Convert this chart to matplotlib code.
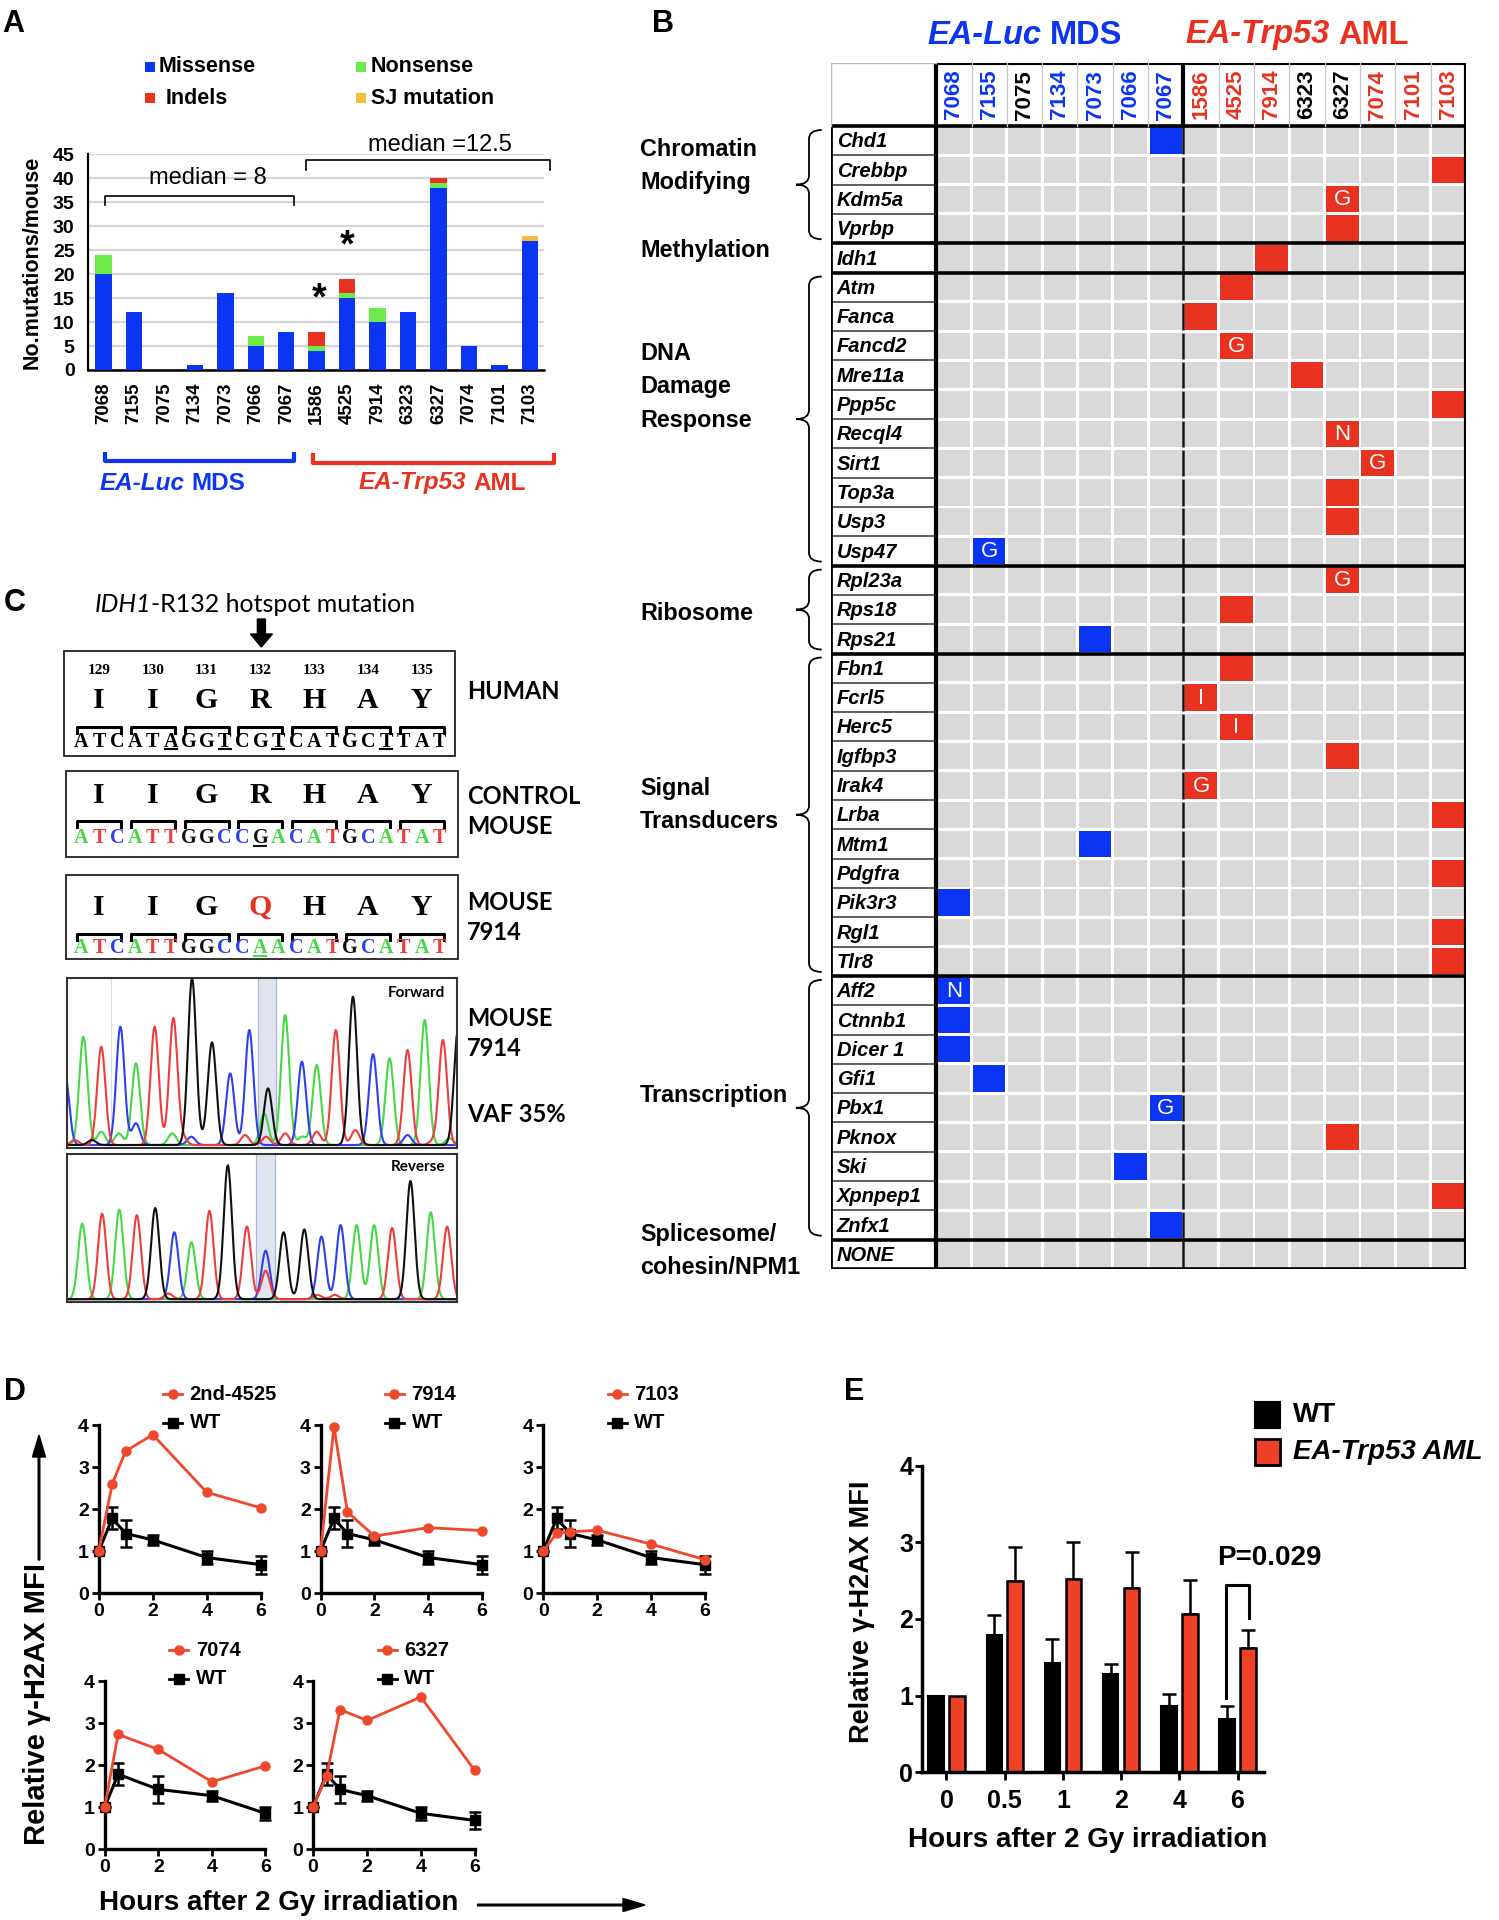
import numpy as np
import matplotlib
matplotlib.use('Agg')
import matplotlib.pyplot as plt
from matplotlib.patches import Rectangle, FancyArrow, PathPatch
from matplotlib.path import Path
from matplotlib import font_manager as fm

W, H = 1499, 1920
PT = 100 / 72.0


def has_font(name):
    try:
        fm.findfont(fm.FontProperties(family=name), fallback_to_default=False)
        return True
    except Exception:
        return False


SANS = 'Liberation Sans'
SERIF = 'Liberation Serif'
NARROW = 'Liberation Sans Narrow' if has_font('Liberation Sans Narrow') else None
CAL = 'Lato' if has_font('Lato') else SANS
plt.rcParams['font.family'] = [SANS, 'DejaVu Sans']

# ======================= DATA =======================
# Panel A
mice = ['7068', '7155', '7075', '7134', '7073', '7066', '7067',
        '1586', '4525', '7914', '6323', '6327', '7074', '7101', '7103']
n_mds = 7
missense = [20, 12, 0, 1, 16, 5, 8, 4, 15, 10, 12, 38, 5, 1, 27]
nonsense = [4, 0, 0, 0, 0, 2, 0, 1, 1, 3, 0, 1, 0, 0, 0]
indels = [0, 0, 0, 0, 0, 0, 0, 3, 3, 0, 0, 1, 0, 0, 0]
sj_mut = [0, 0, 0, 0, 0, 0, 0, 0, 0, 0, 0, 0, 0, 0, 1]
starred = ['1586', '4525']
mds_median = 8
aml_median = 12.5

# Panel B
header_colors = ['b', 'b', 'k', 'b', 'b', 'b', 'b', 'r', 'r', 'r', 'k', 'k', 'r', 'r', 'r']
genes = ['Chd1', 'Crebbp', 'Kdm5a', 'Vprbp', 'Idh1',
         'Atm', 'Fanca', 'Fancd2', 'Mre11a', 'Ppp5c', 'Recql4', 'Sirt1', 'Top3a', 'Usp3', 'Usp47',
         'Rpl23a', 'Rps18', 'Rps21',
         'Fbn1', 'Fcrl5', 'Herc5', 'Igfbp3', 'Irak4', 'Lrba', 'Mtm1', 'Pdgfra', 'Pik3r3', 'Rgl1', 'Tlr8',
         'Aff2', 'Ctnnb1', 'Dicer 1', 'Gfi1', 'Pbx1', 'Pknox', 'Ski', 'Xpnpep1', 'Znfx1',
         'NONE']
gene_mouse = ['7067', '7103', '6327', '6327', '7914',
              '4525', '1586', '4525', '6323', '7103', '6327', '7074', '6327', '6327', '7155',
              '6327', '4525', '7073',
              '4525', '1586', '4525', '6327', '1586', '7103', '7073', '7103', '7068', '7103', '7103',
              '7068', '7068', '7068', '7155', '7067', '6327', '7066', '7103', '7067',
              '']
gene_tag = ['', '', 'G', '', '',
            '', '', 'G', '', '', 'N', 'G', '', '', 'G',
            'G', '', '',
            '', 'I', 'I', '', 'G', '', '', '', '', '', '',
            'N', '', '', '', 'G', '', '', '', '',
            '']
cat_labels = ['Chromatin\nModifying', 'Methylation', 'DNA\nDamage\nResponse', 'Ribosome',
              'Signal\nTransducers', 'Transcription', 'Splicesome/\ncohesin/NPM1']
cat_rows = [(0, 4), (4, 5), (5, 15), (15, 18), (18, 29), (29, 38), (38, 39)]
cat_brace = [True, False, True, True, True, True, False]

# Panel C
codon_numbers = [129, 130, 131, 132, 133, 134, 135]
res_human = 'IIGRHAY'
seq_human = 'ATCATAGGTCGTCATGCTTAT'
ul_human = [5, 8, 11, 17]
res_ctrl = 'IIGRHAY'
seq_ctrl = 'ATCATTGGCCGACATGCATAT'
ul_ctrl = [10]
res_7914 = 'IIGQHAY'
seq_7914 = 'ATCATTGGCCAACATGCATAT'
ul_7914 = [10]
fwd_pos = [-0.005, 0.042, 0.088, 0.137, 0.177, 0.225, 0.273, 0.321, 0.373, 0.419, 0.468, 0.516, 0.506,
           0.560, 0.603, 0.641, 0.690, 0.734, 0.786, 0.828, 0.874, 0.918, 0.965, 1.004,
           0.020, 0.064, 0.088, 0.133, 0.177, 0.270, 0.298, 0.319, 0.363, 0.417, 0.457, 0.511,
           0.560, 0.604, 0.641, 0.740, 0.781, 0.828, 0.874, 0.938, 0.982]
fwd_h = [0.42, 0.65, 0.59, 0.71, 0.49, 0.71, 0.76, 1.00, 0.57, 0.41, 0.69, 0.34, 0.19,
         0.78, 0.50, 0.48, 0.69, 0.89, 0.50, 0.46, 0.57, 0.75, 0.63, 0.70,
         0.03, 0.03, 0.08, 0.07, 0.13, 0.07, 0.04, 0.05, 0.07, 0.02, 0.06, 0.05,
         0.07, 0.05, 0.08, 0.09, 0.05, 0.06, 0.06, 0.02, 0.04]
fwd_base = list('CATCATTGGCCGAACATGCATATG') + list('TGAACATCGCTTTATTCACTAGC')
rev_pos = [0.039, 0.090, 0.134, 0.179, 0.226, 0.275, 0.319, 0.365, 0.412, 0.461, 0.509, 0.509,
           0.555, 0.608, 0.652, 0.701, 0.742, 0.787, 0.833, 0.880, 0.932, 0.974,
           0.260, 0.642, 0.686]
rev_h = [0.53, 0.60, 0.63, 0.59, 0.64, 0.47, 0.40, 0.62, 0.94, 0.51, 0.34, 0.20,
         0.47, 0.49, 0.44, 0.52, 0.52, 0.52, 0.50, 0.83, 0.61, 0.51,
         0.04, 0.03, 0.03]
rev_base = list('ATATGCATGTCTGGCCAATGAT') + list('TTT')

# Panel D
d_samples = ['2nd-4525', '7914', '7103', '7074', '6327']
d_times = [0, 0.5, 1, 2, 4, 6]
wt_mean = [1.0, 1.78, 1.42, 1.27, 0.85, 0.68]
wt_err = [0.0, 0.26, 0.32, 0.12, 0.15, 0.21]
d_times_7074 = [0, 0.5, 2, 4, 6]
wt_mean_7074 = [1.0, 1.78, 1.42, 1.27, 0.85]
wt_err_7074 = [0.0, 0.26, 0.32, 0.12, 0.15]
s_4525 = [1.0, 2.60, 3.38, 3.77, 2.40, 2.03]
s_7914 = [1.0, 3.96, 1.93, 1.36, 1.56, 1.49]
s_7103 = [1.0, 1.43, 1.46, 1.50, 1.17, 0.80]
s_7074 = [1.0, 2.73, 2.37, 1.60, 1.98]
s_6327 = [1.0, 1.74, 3.32, 3.06, 3.62, 1.87]

# Panel E
e_times = ['0', '0.5', '1', '2', '4', '6']
e_wt = [1.0, 1.79, 1.42, 1.28, 0.86, 0.69]
e_wt_err = [0.0, 0.26, 0.32, 0.13, 0.16, 0.18]
e_aml = [1.0, 2.49, 2.52, 2.41, 2.06, 1.62]
e_aml_err = [0.0, 0.45, 0.49, 0.46, 0.45, 0.24]
p_value = 'P=0.029'

# ======================= STYLE =======================
BLUE = '#0b35f2'
GREEN = '#6ceb4b'
RED = '#e8321f'
ORANGE = '#f5bd40'
HM_GRAY = '#d9d9d9'
D_RED = '#f0482c'
E_RED = '#ee4127'
CMAP = {'b': BLUE, 'r': RED, 'k': 'black'}
BASE_COL = {'A': '#46d846', 'C': '#2f3ff0', 'G': '#111111', 'T': '#f03c3c'}

fig = plt.figure(figsize=(W / 100, H / 100), dpi=100)
fig.patch.set_facecolor('white')


def px_axes(x0, y0, x1, y1, **kw):
    return fig.add_axes([x0 / W, 1 - y1 / H, (x1 - x0) / W, (y1 - y0) / H], **kw)


ov = fig.add_axes([0, 0, 1, 1], zorder=10)
ov.set_xlim(0, W)
ov.set_ylim(H, 0)
ov.axis('off')
renderer = fig.canvas.get_renderer()


def rich(x, y, pieces, size, ha='center'):
    ts, ws = [], []
    for s, kw in pieces:
        lead = len(s) - len(s.lstrip(' '))
        t = ov.text(0, y, s.lstrip(' '), fontsize=size, va='center', ha='left', **kw)
        ts.append((t, lead * 0.278 * size * PT))
        ws.append(t.get_window_extent(renderer).width + lead * 0.278 * size * PT)
    x0 = x - sum(ws) / 2 if ha == 'center' else x
    for (t, lead), w in zip(ts, ws):
        t.set_x(x0 + lead)
        x0 += w


def cap_text(x, yc, s, size, capfrac=0.70, **kw):
    ov.text(x, yc + capfrac * size * PT / 2, s, fontsize=size, ha='center', va='baseline', **kw)


def panel_letter(x, y, s):
    ov.text(x, y, s, fontsize=22, weight='bold', ha='center', va='center')


panel_letter(13, 24, 'A')
panel_letter(663, 24, 'B')
panel_letter(15, 603, 'C')
panel_letter(15, 1392, 'D')
panel_letter(854, 1392, 'E')

# ======================= PANEL A =======================
axA = px_axes(88.4, 154.3, 544.4, 370)
xa = np.arange(len(mice))
bottom = np.zeros(len(mice))
for vals, col in ((missense, BLUE), (nonsense, GREEN), (indels, RED), (sj_mut, ORANGE)):
    v = np.array(vals, float)
    axA.bar(xa, v, width=0.54, bottom=bottom, color=col, zorder=3, linewidth=0)
    bottom += v
axA.set_xlim(-0.5, len(mice) - 0.52)
axA.set_ylim(0, 45)
axA.set_yticks(np.arange(0, 46, 5))
axA.grid(axis='y', color='#d6d6d6', lw=1.6, zorder=0)
axA.set_axisbelow(True)
for s in ('top', 'right'):
    axA.spines[s].set_visible(False)
axA.spines['left'].set_linewidth(1.6)
axA.spines['bottom'].set_linewidth(1.8)
axA.set_xticks(xa)
axA.set_xticklabels(mice, rotation=90, fontsize=13.5, fontweight='bold')
axA.tick_params(axis='both', length=0)
axA.tick_params(axis='x', pad=9.0)
axA.tick_params(axis='y', pad=10, labelsize=14)
for lab in axA.get_yticklabels():
    lab.set_fontweight('bold')


def bracket(ax, x0, x1, y, leg, **kw):
    ax.plot([x0, x0, x1, x1], [y - leg, y, y, y - leg], clip_on=False, **kw)


bracket(axA, 0.06, n_mds - 0.76, 36.3, 1.8, color='k', lw=1.2)
axA.text(3.44, 40.0, f'median = {mds_median:g}', ha='center', va='center', fontsize=17)
bracket(axA, n_mds - 0.35, len(mice) - 0.35, 43.8, 2.1, color='k', lw=1.2)
axA.text(11.05, 46.9, f'median ={aml_median:g}', ha='center', va='center', fontsize=17, clip_on=False)
for m in starred:
    i = mice.index(m)
    axA.text(i + (0.07 if i == n_mds else 0), bottom[i] + 6.8, '*', ha='center', va='center',
             fontsize=27, weight='bold')

# legend A
for (lab, col, sx, sy, tx) in (('Missense', BLUE, 144.7, 67, 159), ('Nonsense', GREEN, 355.6, 67, 371),
                               ('Indels', RED, 144.7, 98, 165.5), ('SJ mutation', ORANGE, 355.6, 98, 371)):
    ov.add_patch(Rectangle((sx, sy - 5), 10, 10, fc=col, ec='none'))
    ov.text(tx, sy, lab, fontsize=15.5, weight='bold', va='center', ha='left')

ov.text(32, 262, 'No.mutations/mouse', rotation=90, fontsize=15.5, weight='bold', ha='center', va='center')
ov.plot([105.5, 105.5, 294.5, 294.5], [452, 461, 461, 452], color=BLUE, lw=3, solid_capstyle='butt')
ov.plot([312.7, 312.7, 554.5, 554.5], [453, 463, 463, 453], color=RED, lw=3, solid_capstyle='butt')
rich(172, 483, [('EA-Luc', dict(style='italic', weight='bold', color=BLUE)),
                (' MDS', dict(weight='bold', color=BLUE))], 17.5)
rich(442, 483, [('EA-Trp53', dict(style='italic', weight='bold', color=RED)),
                (' AML', dict(weight='bold', color=RED))], 17.5)

# ======================= PANEL B =======================
NR, NC = len(genes), len(mice)
col_w = (1466 - 936.2) / NC
row_h = (1269 - 126) / NR
GC = (936.2 - 830.8) / col_w
HD = (126 - 63.3) / row_h
axB = px_axes(830.8, 63.3, 1466, 1269)
axB.set_xlim(-GC, NC)
axB.set_ylim(NR, -HD)
axB.axis('off')
gx, gy = 0.04, 0.05
for j, g in enumerate(genes):
    mc = mice.index(gene_mouse[j]) if gene_mouse[j] else -1
    for i in range(NC):
        if i == mc:
            fc = BLUE if i < n_mds else RED
        else:
            fc = HM_GRAY
        axB.add_patch(Rectangle((i + gx, j + gy), 1 - 2 * gx, 1 - 2 * gy, fc=fc, ec='none', lw=0))
    if mc >= 0 and gene_tag[j]:
        axB.text(mc + 0.5, j + 0.52, gene_tag[j], color='white', ha='center', va='center', fontsize=16)
    axB.text(-GC + 0.17, j + 0.54, g, style='italic', weight='bold', fontsize=14.5, ha='left', va='center')
    axB.plot([n_mds, n_mds], [j + gy, j + 1 - gy], color='#111', lw=1.8, solid_capstyle='butt')

bounds = sorted(set([0] + [r[1] for r in cat_rows]))
for j in range(1, NR):
    if j not in bounds:
        axB.plot([-GC, 0], [j, j], color='#444', lw=1.2)
for b in bounds:
    axB.plot([-GC, NC], [b, b], color='k', lw=2.6, solid_capstyle='projecting')
axB.plot([0, 0], [-HD, NR], color='k', lw=3)
axB.plot([NC, NC], [-HD, NR], color='k', lw=3)
axB.plot([-GC, -GC], [0, NR], color='k', lw=2)
axB.plot([0, NC], [-HD, -HD], color='k', lw=3, solid_capstyle='projecting')
axB.plot([-GC, 0], [-HD, -HD], color='#bbbbbb', lw=1)
axB.plot([-GC, -GC], [-HD, 0], color='#bbbbbb', lw=1)
for i in range(1, NC):
    if i == n_mds:
        axB.plot([i, i], [-HD, 0], color='k', lw=3)
    else:
        axB.plot([i, i], [-HD, 0], color='#c8c8c8', lw=0.9)
for i, m in enumerate(mice):
    axB.text(i + 0.5, -HD / 2, m, rotation=90, ha='center', va='center', fontsize=16,
             weight='bold', color=CMAP[header_colors[i]])

rich(1025, 35, [('EA-Luc', dict(style='italic', weight='bold', color=BLUE)),
                (' MDS', dict(weight='bold', color=BLUE))], 23.5)
rich(1297, 35, [('EA-Trp53', dict(style='italic', weight='bold', color=RED)),
                (' AML', dict(weight='bold', color=RED))], 23.5)


def brace(x_r, x_m, x_l, y0, y1, r=9, lw=1.3):
    yc = (y0 + y1) / 2
    verts = [(x_r, y0), (x_m, y0), (x_m, y0 + r), (x_m, yc - r), (x_m, yc), (x_l, yc),
             (x_m, yc), (x_m, yc + r), (x_m, y1 - r), (x_m, y1), (x_r, y1)]
    codes = [Path.MOVETO, Path.CURVE3, Path.CURVE3, Path.LINETO, Path.CURVE3, Path.CURVE3,
             Path.CURVE3, Path.CURVE3, Path.LINETO, Path.CURVE3, Path.CURVE3]
    ov.add_patch(PathPatch(Path(verts, codes), fill=False, ec='k', lw=lw))


cat_first_y = [150, 250.7, 354, 614, 789, 1095.7, 1234]
cat_kw = dict(weight='bold', ha='left', va='center')
if NARROW:
    cat_kw.update(family=NARROW, fontsize=20)
else:
    cat_kw.update(fontsize=16.8)
for lab, (r0, r1), hb, y0 in zip(cat_labels, cat_rows, cat_brace, cat_first_y):
    for k, line in enumerate(lab.split('\n')):
        ov.text(640, y0 + 33 * k, line, **cat_kw)
    if hb:
        brace(821.7, 809, 796, 126 + r0 * row_h + 4, 126 + r1 * row_h - 4)

# ======================= PANEL C =======================
rich(255, 604, [('IDH1', dict(style='italic', family=CAL)),
                ('-R132 hotspot mutation', dict(family=CAL))], 18)
ov.add_patch(FancyArrow(261.4, 619, 0, 28, width=8, head_width=22, head_length=13,
                        length_includes_head=True, color='k'))
cx = [99 + 53.8 * k for k in range(7)]
boxes = [((64, 651, 390.6, 105), res_human, seq_human, ul_human, False, 698.3, 726.7, 740),
         ((66.2, 771, 391.5, 86.3), res_ctrl, seq_ctrl, ul_ctrl, True, 793.3, 820.7, 836.7),
         ((66.2, 875, 391.5, 84), res_7914, seq_7914, ul_7914, True, 905, 934, 946.7)]
for k, n in enumerate(codon_numbers):
    cap_text(cx[k], 668.3, str(n), 11, family=SERIF, weight='bold')
for (bx, res, seq, ul, colored, ry, by, sy) in boxes:
    ov.add_patch(Rectangle(bx[:2], bx[2], bx[3], fill=False, ec='#222', lw=1.3))
    for k, r in enumerate(res):
        col = RED if (colored and r != res_human[k]) else 'k'
        cap_text(cx[k], ry, r, 21.5, capfrac=0.66, family=SERIF, weight='bold', color=col)
        ov.plot([cx[k] - 22, cx[k] - 22, cx[k] + 22, cx[k] + 22], [by + 6, by, by, by + 6], color='k', lw=2.2)
    for m, b in enumerate(seq):
        xx = cx[m // 3] + (m % 3 - 1) * 17.93
        col = BASE_COL[b] if colored else 'k'
        cap_text(xx, sy, b, 14.5, capfrac=0.66, family=SERIF, weight='bold', color=col)
        if m in ul:
            ov.plot([xx - 6, xx + 6], [sy + 9, sy + 9], color=col, lw=1.5)

for txt, y in (('HUMAN', 691.7), ('CONTROL', 796.7), ('MOUSE', 826.7), ('MOUSE', 903), ('7914', 933),
               ('MOUSE', 1018), ('7914', 1049), ('VAF 35%', 1114)):
    ov.text(467, y, txt, family=CAL, weight='bold', fontsize=17, ha='left', va='center')


def chromat(box, pos, h, bases, band, label, ylim):
    ax = px_axes(*box)
    xs = np.linspace(0, 1, 1600)
    sig = 0.0105
    for b in 'ACTG':
        y = np.zeros_like(xs)
        for p, hh, bb in zip(pos, h, bases):
            if bb == b:
                y += hh * np.exp(-0.5 * ((xs - p) / sig) ** 2)
        ax.plot(xs, y, color=BASE_COL[b], lw=1.5)
    ax.axvspan(band[0], band[1], color='#dfe4ef', zorder=0)
    for bx in band:
        ax.axvline(bx, color='#a9b8da', lw=0.8, zorder=0)
    ax.set_xlim(0, 1)
    ax.set_ylim(*ylim)
    ax.set_xticks([])
    ax.set_yticks([])
    for s in ax.spines.values():
        s.set_linewidth(1.5)
        s.set_color('#333')
    ax.text(0.97, 0.91, label, transform=ax.transAxes, ha='right', va='center', family=CAL,
            weight='bold', fontsize=11)
    return ax


axF = chromat((67, 977.7, 456.6, 1147.7), fwd_pos, fwd_h, fwd_base, (0.491, 0.537), 'Forward', (-0.016, 1.004))
axF.axvline(0.113, color='#dddddd', lw=0.8, zorder=0)
axR = chromat((67, 1154, 457.3, 1302), rev_pos, rev_h, rev_base, (0.485, 0.534), 'Reverse', (-0.02, 1.02))

# ======================= PANEL D =======================
d_boxes = [(98.7, 1425, 260.8, 1593.3), (320.5, 1425, 482.1, 1593.3), (543.2, 1425, 704.8, 1593.3),
           (104.7, 1681, 265.4, 1849), (313.1, 1681, 474.7, 1849)]
d_series = [(d_times, wt_mean, wt_err, d_times, s_4525),
            (d_times, wt_mean, wt_err, d_times, s_7914),
            (d_times, wt_mean, wt_err, d_times, s_7103),
            (d_times_7074, wt_mean_7074, wt_err_7074, d_times_7074, s_7074),
            (d_times, wt_mean, wt_err, d_times, s_6327)]
for box, name, (tw, wm, we, ts, sv) in zip(d_boxes, d_samples, d_series):
    ax = px_axes(*box)
    cont = ax.errorbar(tw, wm, yerr=we, fmt='-s', color='k', lw=2.2, ms=6.5, capsize=4, capthick=1.8,
                       elinewidth=1.8, zorder=3)
    for art in cont.get_children():
        art.set_clip_on(False)
    ax.plot(ts, sv, '-o', color=D_RED, lw=2, ms=6.5, zorder=4, clip_on=False)
    ax.set_xlim(0, 6)
    ax.set_ylim(0, 4)
    ax.set_xticks([0, 2, 4, 6])
    ax.set_yticks([0, 1, 2, 3, 4])
    for s in ('top', 'right'):
        ax.spines[s].set_visible(False)
    for s in ('left', 'bottom'):
        ax.spines[s].set_linewidth(2.4)
    ax.tick_params(length=5, width=2, labelsize=14, pad=2)
    for lab in ax.get_xticklabels() + ax.get_yticklabels():
        lab.set_fontweight('bold')
    mx = box[0] + 74
    for (yy, col, mk, lab) in ((box[1] - 31, D_RED, 'o', name), (box[1] - 2, 'k', 's', 'WT')):
        ov.plot([mx - 9.5, mx + 9.5], [yy, yy], color=col, lw=2)
        ov.plot([mx], [yy], marker=mk, color=col, ms=6.5)
        ov.text(mx + 17, yy, lab, fontsize=14.5, weight='bold', ha='left', va='center')

ov.text(37, 1704, 'Relative γ-H2AX MFI', rotation=90, fontsize=21, weight='bold', ha='center', va='center')
ov.add_patch(FancyArrow(39, 1560, 0, -125, width=1.6, head_width=13, head_length=22,
                        length_includes_head=True, color='k'))
ov.text(98.7, 1903, 'Hours after 2 Gy irradiation', fontsize=20, weight='bold', ha='left', va='center')
ov.add_patch(FancyArrow(477.5, 1905, 167.5, 0, width=1.6, head_width=13, head_length=22,
                        length_includes_head=True, color='k'))

# ======================= PANEL E =======================
axE = px_axes(921.7, 1465.7, 1264.3, 1772.3)
xe = np.arange(len(e_times))
bw, off = 0.265, 0.18
axE.bar(xe - off, e_wt, bw, color='k', edgecolor='k', lw=1.5, zorder=2)
axE.bar(xe + off, e_aml, bw, color=E_RED, edgecolor='k', lw=1.8, zorder=2)
for xs, mv, ev in ((xe - off, e_wt, e_wt_err), (xe + off, e_aml, e_aml_err)):
    sel = np.array(ev) > 0
    axE.errorbar(xs[sel], np.array(mv)[sel], yerr=[np.zeros(sel.sum()), np.array(ev)[sel]], fmt='none',
                 ecolor='k', elinewidth=1.8, capsize=5, capthick=1.8, zorder=1)
axE.set_xlim(-0.426, 5.46)
axE.set_ylim(0, 4)
axE.set_xticks(xe)
axE.set_xticklabels(e_times)
axE.set_yticks([0, 1, 2, 3, 4])
for s in ('top', 'right'):
    axE.spines[s].set_visible(False)
for s in ('left', 'bottom'):
    axE.spines[s].set_linewidth(2.5)
axE.tick_params(axis='x', length=6, width=2, labelsize=18, pad=6)
axE.tick_params(axis='y', length=5, width=2, labelsize=18, pad=1)
for lab in axE.get_xticklabels() + axE.get_yticklabels():
    lab.set_fontweight('bold')
i6 = len(e_times) - 1
axE.plot([i6 - 0.2, i6 - 0.2, i6 + 0.2, i6 + 0.2],
         [e_wt[i6] + e_wt_err[i6] + 0.1, 2.44, 2.44, e_aml[i6] + e_aml_err[i6] + 0.15],
         color='k', lw=2.2, clip_on=False)
axE.text(i6 + 0.54, 2.79, p_value, fontsize=20, weight='bold', ha='center', va='center', clip_on=False)
ov.add_patch(Rectangle((1255, 1402), 25, 26, fc='k', ec='k', lw=1.5))
ov.add_patch(Rectangle((1255, 1439), 25, 26, fc=E_RED, ec='k', lw=2))
ov.text(1293, 1415, 'WT', fontsize=20, weight='bold', ha='left', va='center')
ov.text(1293, 1452, 'EA-Trp53 AML', fontsize=20, weight='bold', style='italic', ha='left', va='center')
ov.text(862, 1612, 'Relative γ-H2AX MFI', rotation=90, fontsize=19.5, weight='bold', ha='center', va='center')
ov.text(1088, 1840, 'Hours after 2 Gy irradiation', fontsize=20, weight='bold', ha='center', va='center')

fig.savefig('out.png', dpi=100, facecolor='white')
